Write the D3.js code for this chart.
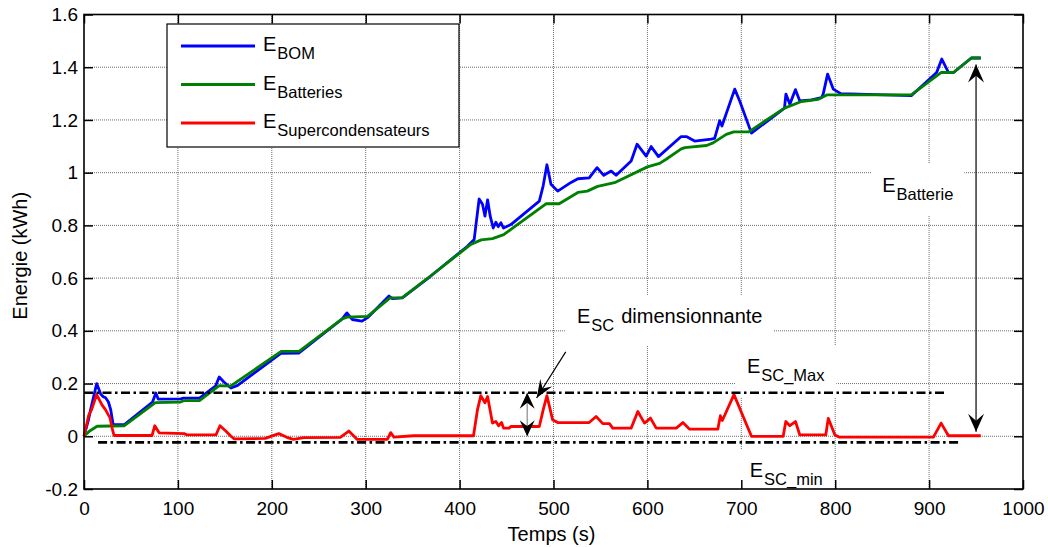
<!DOCTYPE html>
<html>
<head>
<meta charset="utf-8">
<script src="https://cdn.jsdelivr.net/npm/d3@7"></script>
<style>
body { margin: 0; background: #fff; }
svg text { font-family: "Liberation Sans", Arial, Helvetica, sans-serif; fill: #000; }
</style>
</head>
<body>
<svg id="chart" width="1048" height="547"></svg>
<script>
// ---- data: [time (s), energy (kWh)] ----
const xTicks = [0, 100, 200, 300, 400, 500, 600, 700, 800, 900, 1000]
const yTicks = [-0.2, 0, 0.2, 0.4, 0.6, 0.8, 1, 1.2, 1.4, 1.6]

const eBOM = [[0,0],[4.6,0.06],[7,0.1],[13.5,0.2],[17.8,0.16],[20.5,0.15],[23,0.146],[26,0.13],[28.5,0.1],[31,0.045],[43,0.044],
  [73,0.13],[76.5,0.164],[79,0.141],[103,0.142],[106,0.145],[123,0.145],[140,0.19],[144,0.225],[149,0.206],[156.5,0.183],
  [163.6,0.193],[210,0.315],[229,0.316],[275,0.445],[280,0.468],[285.6,0.443],[296,0.437],[302,0.45],[324.8,0.532],
  [328.4,0.522],[339,0.525],[369,0.607],[408,0.72],[415.5,0.746],[420.8,0.9],[424.4,0.88],[427,0.835],[429.8,0.897],
  [432.6,0.835],[435.8,0.79],[438.6,0.812],[441.1,0.795],[444,0.81],[446.8,0.79],[454.6,0.803],[484.9,0.892],[489,0.95],
  [493,1.03],[497.3,0.956],[504.5,0.93],[518.7,0.963],[526,0.977],[538,0.98],[546.4,1.019],[553.5,0.99],[561.4,1.006],
  [566.7,0.99],[582.7,1.044],[589,1.108],[598.7,1.063],[604,1.099],[611.8,1.061],[636,1.137],[641.4,1.137],[650.3,1.12],
  [668,1.127],[671.6,1.13],[677,1.197],[679.4,1.177],[693,1.317],[698.3,1.272],[710.8,1.15],[746,1.245],[747.5,1.298],
  [751.7,1.26],[757.7,1.315],[762.3,1.272],[774.8,1.276],[785.5,1.285],[787.2,1.298],[791.9,1.374],[797.9,1.317],[806,1.3],
  [881,1.292],[908,1.38],[913.5,1.431],[920.6,1.38],[926,1.38],[945,1.435],[955,1.435]]

const eBatteries = [[0,0],[6,0.02],[14,0.038],[43,0.04],[76,0.128],[103,0.13],[106,0.135],[123,0.135],[144,0.192],[156,0.19],
  [210,0.322],[229,0.322],[275,0.445],[280,0.452],[302,0.455],[326,0.525],[339,0.526],[369,0.608],[412,0.728],[423,0.745],
  [435,0.75],[447,0.765],[492,0.882],[506,0.882],[526,0.925],[536,0.93],[547,0.948],[565,0.962],[600,1.022],[613,1.035],
  [620,1.051],[636,1.09],[640,1.095],[663,1.103],[670,1.113],[684,1.145],[692,1.155],[708,1.155],[746,1.245],[764,1.27],
  [782,1.278],[791,1.295],[881,1.295],[913,1.38],[926,1.38],[945,1.435],[955,1.435]]

const eSC = [[0,0],[5,0.08],[8,0.1],[13.5,0.158],[19,0.12],[23,0.1],[27.7,0.07],[30,0.03],[32,0.003],[72.5,0.003],[75.4,0.04],
  [80,0.013],[106.7,0.01],[110,0.005],[140.5,0.005],[144.8,0.04],[151,0.02],[156.5,0],[160,-0.01],[193,-0.008],[207.4,0.01],
  [216,-0.004],[223,-0.012],[234,-0.005],[273,-0.004],[282,0.02],[291,-0.012],[323,-0.012],[326.6,0.014],[330,-0.003],
  [351,0.002],[414.8,0.002],[419,0.1],[422.6,0.154],[427,0.127],[429.8,0.151],[435,0.05],[438.6,0.056],[441.5,0.04],
  [444.7,0.052],[446.8,0.031],[452.8,0.031],[454.6,0.037],[484.9,0.037],[489,0.1],[493,0.154],[499,0.063],[504.5,0.052],
  [538,0.052],[545.4,0.075],[552.5,0.048],[559.6,0.048],[563,0.031],[582.7,0.031],[589.8,0.094],[596.9,0.05],[603.3,0.069],
  [609.4,0.031],[630.7,0.031],[637.8,0.052],[645,0.027],[675,0.027],[677.7,0.078],[679.8,0.06],[692.2,0.158],[710.8,0],
  [744.6,0],[747.4,0.056],[751.7,0.04],[757.7,0.056],[762.3,0.005],[790,0.005],[792.6,0.068],[799.7,0.005],[804,-0.003],
  [904.6,-0.003],[912.8,0.05],[920.6,0.002],[955,0.002]]

const scMax = [[0,0.165],[918,0.165]]
const scMin = [[15,-0.023],[932,-0.023]]

const legendSubs = ['BOM', 'Batteries', 'Supercondensateurs']
const seriesList = [eBOM, eBatteries, eSC]
const colors = ['#0000ff', '#008000', '#ff0000']

// annotations, anchored in data units
const notes = [
  { sub: 'SC', rest: 'dimensionnante', at: [525, 0.43] },
  { sub: 'SC_Max', rest: '', at: [706, 0.24] },
  { sub: 'SC_min', rest: '', at: [709, -0.155] },
  { sub: 'Batterie', rest: '', at: [850, 0.927] }
]
const arrowBatterie = [[950, 1.41], [950, 0.017]]
const arrowDim = [[472, 0.165], [472, 0]]
const arrowPointer = [[513, 0.32], [482, 0.145]]

const svg = d3.select('#chart')
const x = d3.scaleLinear().domain([0, 1000]).range([84, 1023])
const y = d3.scaleLinear().domain([-0.2, 1.6]).range([489, 14.5])
const [x0, x1] = x.range(), [y0, y1] = y.range()

// grid
const grid = svg.append('g').attr('stroke', '#6e6e6e').attr('stroke-width', 1).attr('stroke-dasharray', '1,1')
grid.selectAll('.gx').data(xTicks.slice(1, -1)).enter().append('line')
  .attr('x1', d => x(d)).attr('x2', d => x(d)).attr('y1', y0).attr('y2', y1)
grid.selectAll('.gy').data(yTicks.slice(1, -1)).enter().append('line')
  .attr('x1', x0).attr('x2', x1).attr('y1', d => y(d)).attr('y2', d => y(d))

// annotation texts (white boxes hide the grid)
const boxLayer = svg.append('g')
const noteLayer = svg.append('g')
const subText = (sel, sub, rest, big, small) => {
  sel.append('tspan').attr('font-size', big).text('E')
  sel.append('tspan').attr('font-size', small).attr('dy', 8).attr('dx', 1).text(sub)
  if (rest) sel.append('tspan').attr('font-size', big).attr('dy', -8).attr('dx', 7).text(rest)
}
notes.forEach(n => {
  const t = noteLayer.append('text').attr('x', x(n.at[0])).attr('y', y(n.at[1]))
  subText(t, n.sub, n.rest, 20, 16.5)
  const b = t.node().getBBox()
  boxLayer.append('rect').attr('x', b.x - 11).attr('y', b.y - 10).attr('width', b.width + 22).attr('height', b.height + 22)
    .attr('fill', '#fff')
})

// series
const line = d3.line().x(d => x(d[0])).y(d => y(d[1]))
svg.append('g').selectAll('path').data(seriesList).enter().append('path')
  .attr('d', line).attr('fill', 'none').attr('stroke', (d, i) => colors[i])
  .attr('stroke-width', 2.8).attr('stroke-linejoin', 'round')

// E_SC limits
svg.append('g').selectAll('path').data([scMax, scMin]).enter().append('path')
  .attr('d', line).attr('fill', 'none').attr('stroke', '#000').attr('stroke-width', 2.6)
  .attr('stroke-dasharray', '9,3.5,2.5,3.5')

// arrows
const head = (tip, from, L, W) => {
  const tx = x(tip[0]), ty = y(tip[1])
  const a = Math.atan2(ty - y(from[1]), tx - x(from[0]))
  const c = Math.cos(a), s = Math.sin(a)
  const p = (u, v) => [tx - u * c - v * s, ty - u * s + v * c]
  return 'M' + [p(0, 0), p(L, W / 2), p(L * 0.62, 0), p(L, -W / 2)].join('L') + 'Z'
}
const arrows = svg.append('g')
const drawArrow = (pts, both, stroke, L, W) => {
  arrows.append('path').attr('d', line(pts)).attr('stroke', stroke).attr('stroke-width', 1.2).attr('fill', 'none')
  arrows.append('path').attr('d', head(pts[1], pts[0], L, W)).attr('fill', '#000')
  if (both) arrows.append('path').attr('d', head(pts[0], pts[1], L, W)).attr('fill', '#000')
}
drawArrow(arrowBatterie, true, '#000', 18, 16)
drawArrow(arrowDim, true, '#888', 16, 15)
drawArrow(arrowPointer, false, '#000', 18, 14)

// axes, MATLAB style box with inward ticks
const fmt = d => String(+d.toFixed(1))
const axes = svg.append('g')
axes.append('g').attr('transform', `translate(0,${y0})`)
  .call(d3.axisBottom(x).tickValues(xTicks).tickFormat(fmt).tickSizeInner(-9).tickSizeOuter(0).tickPadding(12.5))
axes.append('g').attr('transform', `translate(0,${y1})`)
  .call(d3.axisTop(x).tickValues(xTicks).tickFormat('').tickSizeInner(-9).tickSizeOuter(0))
axes.append('g').attr('transform', `translate(${x0},0)`)
  .call(d3.axisLeft(y).tickValues(yTicks).tickFormat(fmt).tickSizeInner(-9).tickSizeOuter(0).tickPadding(6))
axes.append('g').attr('transform', `translate(${x1},0)`)
  .call(d3.axisRight(y).tickValues(yTicks).tickFormat('').tickSizeInner(-9).tickSizeOuter(0))
axes.selectAll('.domain').remove()
axes.selectAll('.tick line').attr('stroke', '#000').attr('stroke-width', 1.5)
axes.selectAll('.tick text').attr('font-size', 19).attr('font-family', null).attr('fill', '#000')
axes.append('rect').attr('x', x0).attr('y', y1).attr('width', x1 - x0).attr('height', y0 - y1)
  .attr('fill', 'none').attr('stroke', '#000').attr('stroke-width', 1.6)

svg.append('text').attr('x', (x0 + x1) / 2 - 2).attr('y', 541).attr('text-anchor', 'middle')
  .attr('font-size', 20).text('Temps (s)')
svg.append('text').attr('transform', `translate(27,${(y0 + y1) / 2 + 4}) rotate(-90)`).attr('text-anchor', 'middle')
  .attr('font-size', 20).text('Energie (kWh)')

// legend
const lg = svg.append('g').attr('transform', 'translate(167,24)')
lg.append('rect').attr('width', 292).attr('height', 123).attr('fill', '#fff').attr('stroke', '#000').attr('stroke-width', 1.2)
legendSubs.forEach((s, i) => {
  const yy = 22 + i * 38.5
  lg.append('line').attr('x1', 14).attr('x2', 88).attr('y1', yy).attr('y2', yy)
    .attr('stroke', colors[i]).attr('stroke-width', 2.8)
  subText(lg.append('text').attr('x', 96).attr('y', yy + 5), s, '', 20, 16.5)
})
</script>
</body>
</html>
